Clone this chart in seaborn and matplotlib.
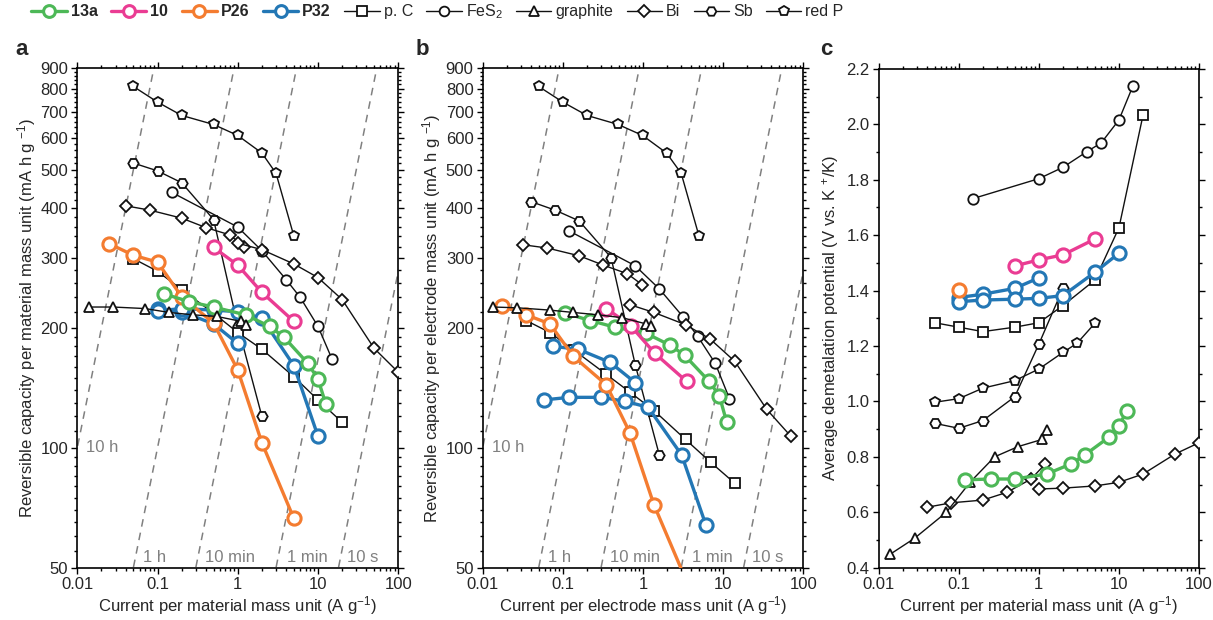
import numpy as np
import matplotlib
matplotlib.use("Agg")
import matplotlib.pyplot as plt
from matplotlib.lines import Line2D
from matplotlib.ticker import FixedLocator, FixedFormatter, LogLocator, NullFormatter, MultipleLocator, FormatStrFormatter
import seaborn as sns

# ---------------- data: panel a (capacity per material mass) ----------------
A_REDP_X = [0.05, 0.1, 0.2, 0.5, 1, 2, 3, 5]
A_REDP_Y = [810, 740, 685, 650, 610, 551, 490, 341]
A_SB_X = [0.05, 0.1, 0.2, 0.5, 1, 2]
A_SB_Y = [520, 497, 464, 375, 203, 120]
A_FES2_X = [0.15, 1, 2, 4, 6, 10, 15]
A_FES2_Y = [439, 359, 313, 265, 239, 202, 167]
A_BI1_X = [0.04, 0.08, 0.2, 0.4, 0.8, 1.2]
A_BI1_Y = [406, 396, 378, 358, 343, 320]
A_BI2_X = [1, 2, 5, 10, 20, 50, 100]
A_BI2_Y = [327, 315, 290, 268, 236, 178, 155]
A_PC_X = [0.05, 0.1, 0.2, 0.5, 1, 2, 5, 10, 20]
A_PC_Y = [299, 278, 250, 218, 195, 177, 151, 132, 116]
A_GR_X = [0.014, 0.028, 0.07, 0.14, 0.28, 0.55, 1.1, 1.25]
A_GR_Y = [226, 226, 224, 219, 216, 214, 208, 204]
A_13A_X = [0.12, 0.25, 0.5, 1.25, 2.5, 3.75, 7.5, 10, 12.5]
A_13A_Y = [244, 233, 226, 216, 202, 190, 163, 149, 129]
A_10_X = [0.5, 1, 2, 5]
A_10_Y = [319, 288, 246, 208]
A_P26_X = [0.025, 0.05, 0.1, 0.2, 0.5, 1, 2, 5]
A_P26_Y = [326, 305, 293, 240, 206, 157, 103, 66.5]
A_P32A_X = [0.1, 0.2, 0.5, 1]
A_P32A_Y = [223, 220, 205, 183]
A_P32B_X = [0.1, 0.2, 0.5, 1, 2, 5, 10]
A_P32B_Y = [221, 224, 222, 220, 212, 161, 107]

# ---------------- data: panel b (capacity per electrode mass) ----------------
B_REDP_X = [0.05, 0.1, 0.2, 0.49, 0.99, 1.97, 3.0, 5.0]
B_REDP_Y = [810, 740, 685, 650, 610, 551, 490, 341]
B_SB_X = [0.04, 0.08, 0.16, 0.4, 0.8, 1.6]
B_SB_Y = [416, 396, 372, 301, 162, 96]
B_FES2_X = [0.12, 0.8, 1.6, 3.2, 4.8, 8, 12]
B_FES2_Y = [351, 287, 251, 213, 191, 163, 133]
B_BI1_X = [0.032, 0.064, 0.16, 0.32, 0.64, 0.98]
B_BI1_Y = [324, 318, 304, 288, 274, 257]
B_BI2_X = [0.69, 1.37, 3.4, 6.85, 14, 35, 70]
B_BI2_Y = [229, 219, 204, 188, 165, 125, 107]
B_PC_X = [0.035, 0.069, 0.138, 0.35, 0.69, 1.38, 3.4, 7.0, 14]
B_PC_Y = [209, 195, 176, 153, 138, 124, 105, 92, 81.5]
B_GR_X = [0.0136, 0.027, 0.069, 0.135, 0.277, 0.55, 1.09, 1.25]
B_GR_Y = [226, 225, 222, 219, 216, 212.5, 205, 202.5]
B_13A_X = [0.108, 0.22, 0.45, 1.1, 2.2, 3.3, 6.7, 9, 11.1]
B_13A_Y = [218, 209, 201, 194, 181, 171, 147, 135, 116]
B_10_X = [0.35, 0.7, 1.4, 3.5]
B_10_Y = [224, 203, 173, 147]
B_P26_X = [0.0173, 0.035, 0.069, 0.135, 0.35, 0.69, 1.37, 3.45]
B_P26_Y = [228, 216, 205, 170, 144, 109, 72, 46.5]
B_P32A_X = [0.076, 0.156, 0.39, 0.8]
B_P32A_Y = [180, 177, 164, 146]
B_P32B_X = [0.058, 0.12, 0.3, 0.6, 1.16, 3.04, 6.1]
B_P32B_Y = [132, 134, 134, 131, 126.5, 96, 64]

# ---------------- data: panel c (average demetalation potential) ----------------
C_REDP_X = [0.05, 0.1, 0.2, 0.5, 1, 2, 3, 5]
C_REDP_V = [0.997, 1.01, 1.048, 1.075, 1.117, 1.177, 1.21, 1.282]
C_SB_X = [0.05, 0.1, 0.2, 0.5, 1, 2]
C_SB_V = [0.921, 0.903, 0.931, 1.017, 1.207, 1.408]
C_FES2_X = [0.15, 1, 2, 4, 6, 10, 15]
C_FES2_V = [1.732, 1.804, 1.845, 1.902, 1.933, 2.016, 2.14]
C_BI1_X = [0.04, 0.08, 0.2, 0.4, 0.8, 1.2]
C_BI1_V = [0.618, 0.634, 0.644, 0.672, 0.72, 0.774]
C_BI2_X = [1, 2, 5, 10, 20, 50, 100]
C_BI2_V = [0.684, 0.687, 0.695, 0.708, 0.738, 0.81, 0.851]
C_PC_X = [0.05, 0.1, 0.2, 0.5, 1, 2, 5, 10, 20]
C_PC_V = [1.284, 1.268, 1.252, 1.268, 1.284, 1.346, 1.438, 1.627, 2.034]
C_GR_X = [0.014, 0.028, 0.07, 0.14, 0.28, 0.55, 1.1, 1.25]
C_GR_V = [0.449, 0.506, 0.6, 0.71, 0.8, 0.837, 0.863, 0.897]
C_13A_X = [0.12, 0.25, 0.5, 1.25, 2.5, 3.75, 7.5, 10, 12.5]
C_13A_V = [0.717, 0.72, 0.72, 0.738, 0.774, 0.807, 0.871, 0.911, 0.966]
C_10_X = [0.5, 1, 2, 5]
C_10_V = [1.489, 1.511, 1.529, 1.586]
C_P26_X = [0.1]
C_P26_V = [1.402]
C_P32A_X = [0.1, 0.2, 0.5, 1]
C_P32A_V = [1.375, 1.387, 1.408, 1.446]
C_P32B_X = [0.1, 0.2, 0.5, 1, 2, 5, 10]
C_P32B_V = [1.36, 1.366, 1.369, 1.372, 1.382, 1.466, 1.535]

# constant-time guide lines (hours) and their labels
GUIDE_HOURS = [10, 1, 1 / 6, 1 / 60, 1 / 360]
GUIDE_LABELS = ["10 h", "1 h", "10 min", "1 min", "10 s"]
GUIDE_LABEL_X = [0.013, 0.066, 0.39, 4.1, 23]
GUIDE_LABEL_Y = [100, 53, 53, 53, 53]

# ---------------- style ----------------
sns.set_theme(style="ticks")
plt.rcParams["font.family"] = ["Liberation Sans", "DejaVu Sans"]
plt.rcParams["mathtext.fontset"] = "custom"
plt.rcParams["mathtext.rm"] = "Liberation Sans"
plt.rcParams["mathtext.it"] = "Liberation Sans:italic"

GREEN = "#4DB857"
PINK = "#EA3C93"
ORANGE = "#F47C30"
BLUE = "#2377B5"
BLACK = "#111111"
GUIDE = "#808080"

FS = 12

COLOR_KW = dict(lw=2.4, ms=9.5, mew=2.2)
BLACK_KW = dict(lw=1.0, ms=7.5, mew=1.3)


def series(ax, x, y, color, marker, lw, ms, mew, z):
    sns.lineplot(x=x, y=y, ax=ax, color=color, marker=marker, markersize=ms,
                 markerfacecolor="white", markeredgecolor=color,
                 markeredgewidth=mew, linewidth=lw, estimator=None,
                 sort=False, legend=False, zorder=z)


def style_log_axes(ax, xlabel, ylabel):
    ax.set_xscale("log")
    ax.set_yscale("log")
    ax.set_xlim(0.01, 100)
    ax.set_ylim(50, 900)
    ax.xaxis.set_major_locator(FixedLocator([0.01, 0.1, 1, 10, 100]))
    ax.xaxis.set_major_formatter(FixedFormatter(["0.01", "0.1", "1", "10", "100"]))
    ax.xaxis.set_minor_locator(LogLocator(base=10, subs=np.arange(2, 10)))
    ax.xaxis.set_minor_formatter(NullFormatter())
    yt = [50, 100, 200, 300, 400, 500, 600, 700, 800, 900]
    ax.yaxis.set_major_locator(FixedLocator(yt))
    ax.yaxis.set_major_formatter(FixedFormatter([str(v) for v in yt]))
    minor = list(range(55, 100, 5)) + list(range(110, 200, 10)) + \
        [v for v in range(220, 900, 20) if v % 100 != 0]
    ax.yaxis.set_minor_locator(FixedLocator(minor))
    ax.yaxis.set_minor_formatter(NullFormatter())
    ax.set_xlabel(xlabel, fontsize=FS, labelpad=2)
    ax.set_ylabel(ylabel, fontsize=FS, labelpad=2)
    xs = np.logspace(-3, 3, 50)
    for t, lab, lx, ly in zip(GUIDE_HOURS, GUIDE_LABELS, GUIDE_LABEL_X, GUIDE_LABEL_Y):
        ax.plot(xs, 1000 * xs * t, color=GUIDE, lw=1.1, dashes=(5, 4), zorder=1)
        ax.text(lx, ly, lab, color=GUIDE, fontsize=FS, va="center", ha="left", zorder=1)


def frame(ax):
    ax.tick_params(which="both", direction="out", top=True, right=True,
                   labelsize=FS, color="black", width=1.0)
    ax.tick_params(which="major", length=4.5, pad=2)
    ax.tick_params(which="minor", length=2.5)
    for s in ax.spines.values():
        s.set_linewidth(1.2)
        s.set_color("black")
    ax.set_facecolor("white")


fig = plt.figure(figsize=(12.13, 6.20), dpi=100)
fig.patch.set_facecolor("white")
ax_a = fig.add_axes([0.0637, 0.0844, 0.2646, 0.8055])
ax_b = fig.add_axes([0.3979, 0.0844, 0.2643, 0.8055])
ax_c = fig.add_axes([0.7244, 0.0844, 0.2641, 0.8044])

# ---- panel a ----
style_log_axes(ax_a, "Current per material mass unit (A g$^{-1}$)",
               "Reversible capacity per material mass unit (mA h g $^{-1}$)")
series(ax_a, A_REDP_X, A_REDP_Y, BLACK, "p", z=3, **BLACK_KW)
series(ax_a, A_SB_X, A_SB_Y, BLACK, "H", z=3, **BLACK_KW)
series(ax_a, A_FES2_X, A_FES2_Y, BLACK, "o", z=3, **BLACK_KW)
series(ax_a, A_BI1_X, A_BI1_Y, BLACK, "D", z=3, lw=1.0, ms=6.5, mew=1.3)
series(ax_a, A_BI2_X, A_BI2_Y, BLACK, "D", z=3, lw=1.0, ms=6.5, mew=1.3)
series(ax_a, A_PC_X, A_PC_Y, BLACK, "s", z=3, lw=1.0, ms=6.5, mew=1.3)
series(ax_a, A_P32A_X, A_P32A_Y, BLUE, "o", z=4, **COLOR_KW)
series(ax_a, A_P32B_X, A_P32B_Y, BLUE, "o", z=4, **COLOR_KW)
series(ax_a, A_P26_X, A_P26_Y, ORANGE, "o", z=4, **COLOR_KW)
series(ax_a, A_13A_X, A_13A_Y, GREEN, "o", z=4, **COLOR_KW)
series(ax_a, A_10_X, A_10_Y, PINK, "o", z=4, **COLOR_KW)
series(ax_a, A_GR_X, A_GR_Y, BLACK, "^", z=5, **BLACK_KW)
frame(ax_a)

# ---- panel b ----
style_log_axes(ax_b, "Current per electrode mass unit (A g$^{-1}$)",
               "Reversible capacity per electrode mass unit (mA h g $^{-1}$)")
series(ax_b, B_REDP_X, B_REDP_Y, BLACK, "p", z=3, **BLACK_KW)
series(ax_b, B_SB_X, B_SB_Y, BLACK, "H", z=3, **BLACK_KW)
series(ax_b, B_FES2_X, B_FES2_Y, BLACK, "o", z=3, **BLACK_KW)
series(ax_b, B_BI1_X, B_BI1_Y, BLACK, "D", z=3, lw=1.0, ms=6.5, mew=1.3)
series(ax_b, B_BI2_X, B_BI2_Y, BLACK, "D", z=3, lw=1.0, ms=6.5, mew=1.3)
series(ax_b, B_PC_X, B_PC_Y, BLACK, "s", z=3, lw=1.0, ms=6.5, mew=1.3)
series(ax_b, B_P32A_X, B_P32A_Y, BLUE, "o", z=4, **COLOR_KW)
series(ax_b, B_P32B_X, B_P32B_Y, BLUE, "o", z=4, **COLOR_KW)
series(ax_b, B_P26_X, B_P26_Y, ORANGE, "o", z=4, **COLOR_KW)
series(ax_b, B_13A_X, B_13A_Y, GREEN, "o", z=4, **COLOR_KW)
series(ax_b, B_10_X, B_10_Y, PINK, "o", z=4, **COLOR_KW)
series(ax_b, B_GR_X, B_GR_Y, BLACK, "^", z=5, **BLACK_KW)
frame(ax_b)

# ---- panel c ----
ax_c.set_xscale("log")
ax_c.set_xlim(0.01, 100)
ax_c.set_ylim(0.4, 2.2)
ax_c.xaxis.set_major_locator(FixedLocator([0.01, 0.1, 1, 10, 100]))
ax_c.xaxis.set_major_formatter(FixedFormatter(["0.01", "0.1", "1", "10", "100"]))
ax_c.xaxis.set_minor_locator(LogLocator(base=10, subs=np.arange(2, 10)))
ax_c.xaxis.set_minor_formatter(NullFormatter())
ax_c.yaxis.set_major_locator(MultipleLocator(0.2))
ax_c.yaxis.set_minor_locator(MultipleLocator(0.1))
ax_c.yaxis.set_major_formatter(FormatStrFormatter("%.1f"))
ax_c.set_xlabel("Current per material mass unit (A g$^{-1}$)", fontsize=FS, labelpad=2)
ax_c.set_ylabel("Average demetalation potential (V vs. K $^{+}$/K)", fontsize=FS, labelpad=4)
series(ax_c, C_REDP_X, C_REDP_V, BLACK, "p", z=3, **BLACK_KW)
series(ax_c, C_SB_X, C_SB_V, BLACK, "H", z=3, **BLACK_KW)
series(ax_c, C_FES2_X, C_FES2_V, BLACK, "o", z=3, **BLACK_KW)
series(ax_c, C_BI1_X, C_BI1_V, BLACK, "D", z=3, lw=1.0, ms=6.5, mew=1.3)
series(ax_c, C_BI2_X, C_BI2_V, BLACK, "D", z=3, lw=1.0, ms=6.5, mew=1.3)
series(ax_c, C_PC_X, C_PC_V, BLACK, "s", z=3, lw=1.0, ms=6.5, mew=1.3)
series(ax_c, C_GR_X, C_GR_V, BLACK, "^", z=3, **BLACK_KW)
series(ax_c, C_P32A_X, C_P32A_V, BLUE, "o", z=4, **COLOR_KW)
series(ax_c, C_P32B_X, C_P32B_V, BLUE, "o", z=4, **COLOR_KW)
series(ax_c, C_P26_X, C_P26_V, ORANGE, "o", z=4, **COLOR_KW)
series(ax_c, C_13A_X, C_13A_V, GREEN, "o", z=4, **COLOR_KW)
series(ax_c, C_10_X, C_10_V, PINK, "o", z=4, **COLOR_KW)
frame(ax_c)

# ---- panel letters ----
for lx, letter in [(0.013, "a"), (0.343, "b"), (0.676, "c")]:
    fig.text(lx, 0.912, letter, fontsize=16, fontweight="bold", ha="left", va="baseline")

# ---- shared legend ----
def handle(color, marker, lw, ms, mew):
    return Line2D([], [], color=color, marker=marker, markersize=ms, lw=lw,
                  markerfacecolor="white", markeredgecolor=color, markeredgewidth=mew)


handles = [
    handle(GREEN, "o", 2.4, 8.5, 2.2),
    handle(PINK, "o", 2.4, 8.5, 2.2),
    handle(ORANGE, "o", 2.4, 8.5, 2.2),
    handle(BLUE, "o", 2.4, 8.5, 2.2),
    handle(BLACK, "s", 1.0, 6.5, 1.3),
    handle(BLACK, "o", 1.0, 7.0, 1.3),
    handle(BLACK, "^", 1.0, 7.5, 1.3),
    handle(BLACK, "D", 1.0, 6.5, 1.3),
    handle(BLACK, "H", 1.0, 7.0, 1.3),
    handle(BLACK, "p", 1.0, 7.5, 1.3),
]
labels = ["13a", "10", "P26", "P32", "p. C", "FeS$_2$", "graphite", "Bi", "Sb", "red P"]
leg = fig.legend(handles, labels, ncol=10, loc="upper left",
                 bbox_to_anchor=(0.018, 1.012), frameon=False, fontsize=11.5,
                 handlelength=2.2, handletextpad=0.25, columnspacing=0.85,
                 borderaxespad=0.2)
for txt in leg.get_texts()[:4]:
    txt.set_fontweight("bold")

fig.savefig("out.png", dpi=100, facecolor="white")
